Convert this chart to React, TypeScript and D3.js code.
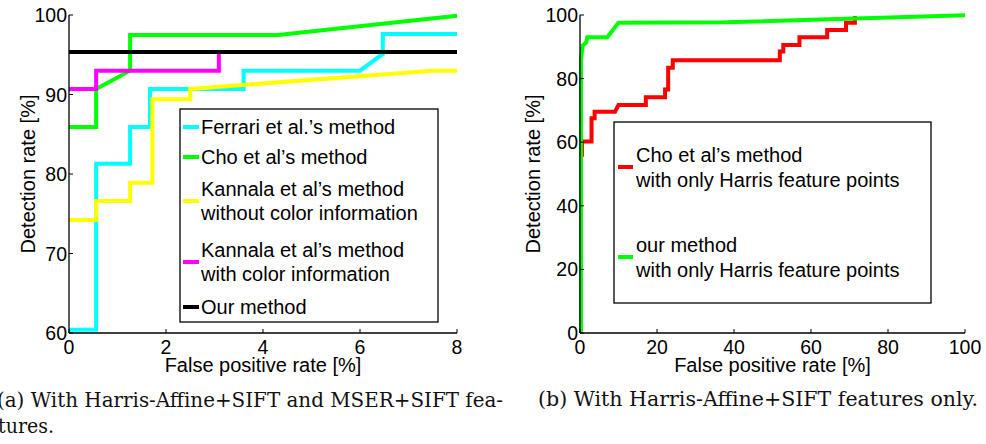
import React, { useEffect } from "react";
import * as d3 from "d3";

// ---------- DATA (left chart: false positive rate [%] vs detection rate [%]) ----------
const leftXTicks = [0, 2, 4, 6, 8];
const leftYTicks = [60, 70, 80, 90, 100];

const ferrariX = [0, 0.56, 0.56, 1.26, 1.26, 1.67, 1.67, 3.6, 3.6, 6.0, 6.47, 6.47, 8];
const ferrariY = [60.4, 60.4, 81.3, 81.3, 85.9, 85.9, 90.7, 90.7, 93.0, 93.0, 95.1, 97.6, 97.6];

const choX = [0, 0.56, 0.56, 1.26, 1.26, 4.31, 8];
const choY = [85.9, 85.9, 90.7, 93.0, 97.5, 97.5, 99.9];

const kannalaNoColX = [0, 0.56, 0.56, 1.26, 1.26, 1.72, 1.72, 2.5, 2.5, 7.5, 8];
const kannalaNoColY = [74.2, 74.2, 76.6, 76.6, 78.9, 78.9, 89.4, 89.4, 90.7, 93.0, 93.0];

const kannalaColX = [0, 0.56, 0.56, 3.09, 3.09, 8];
const kannalaColY = [90.7, 90.7, 93.0, 93.0, 95.35, 95.35];

const oursX = [0, 8];
const oursY = [95.35, 95.35];

const leftLabels = [
  ["Ferrari et al.\u2019s method"],
  ["Cho et al\u2019s method"],
  ["Kannala et al\u2019s method", "without color information"],
  ["Kannala et al\u2019s method", "with color information"],
  ["Our method"],
];
const leftColors = ["#00ffff", "#00ff00", "#ffff00", "#ff00ff", "#000000"];

// ---------- DATA (right chart) ----------
const rightXTicks = [0, 20, 40, 60, 80, 100];
const rightYTicks = [0, 20, 40, 60, 80, 100];

const choHarrisX = [0.5, 0.5, 3.0, 3.0, 3.8, 3.8, 9.1, 10.0, 17.1, 17.1, 22.1, 22.1, 22.9, 22.9, 24.1, 24.1,
  51.9, 51.9, 52.8, 52.8, 57.0, 57.0, 64.2, 64.2, 69.1, 69.1, 71.4, 71.4];
const choHarrisY = [55.4, 60.2, 60.2, 67.5, 67.5, 69.6, 69.6, 71.7, 71.7, 74.1, 74.1, 76.6, 76.6, 83.4, 83.4, 85.8,
  85.8, 88.5, 88.5, 90.6, 90.6, 93.0, 93.0, 95.3, 95.3, 97.6, 97.6, 99.7];

const oursHarrisX = [0.25, 0.25, 0.7, 1.6, 1.9, 7.1, 10.0, 38.0, 100];
const oursHarrisY = [0, 86.0, 90.4, 91.3, 93.0, 93.0, 97.6, 97.7, 99.9];

const rightLabels = [
  ["Cho et al\u2019s method", "with only Harris feature points"],
  ["our method", "with only Harris feature points"],
];
const rightColors = ["#ff0000", "#00ff00"];

const captionA1 = "(a) With Harris-Affine+SIFT and MSER+SIFT fea-";
const captionA2 = "tures.";
const captionB = "(b) With Harris-Affine+SIFT features only.";

// ---------- component ----------
const FONT = "'Liberation Sans', Arial, Helvetica, sans-serif";
const SERIF = "'DejaVu Serif', 'Liberation Serif', serif";

type Series = { xs: number[]; ys: number[]; color: string };

function zip(xs: number[], ys: number[]): [number, number][] {
  return xs.map((x, i) => [x, ys[i]]);
}

function Panel(props: {
  x: d3.ScaleLinear<number, number>;
  y: d3.ScaleLinear<number, number>;
  xTicks: number[];
  yTicks: number[];
  series: Series[];
  titleYX: number;
  legend: { box: [number, number, number, number]; sampleX: [number, number]; textX: number; entries: { color: string; lines: string[]; sampleY: number; lineYs: number[] }[] };
}) {
  const { x, y, xTicks, yTicks, series, legend } = props;
  const [x0, x1] = x.range();
  const [y0, y1] = y.range();
  const line = d3.line<[number, number]>().x((d) => x(d[0])).y((d) => y(d[1]));
  return (
    <g>
      {series.map((s, i) => (
        <path key={i} d={line(zip(s.xs, s.ys)) || ""} fill="none" stroke={s.color} strokeWidth={4} strokeLinejoin="miter" strokeLinecap="butt" />
      ))}
      {/* axes */}
      <line x1={x0} x2={x1} y1={y0} y2={y0} stroke="#000" strokeWidth={1.3} />
      <line x1={x0} x2={x0} y1={y0} y2={y1} stroke="#000" strokeWidth={1.3} />
      {xTicks.map((t) => (
        <g key={"x" + t}>
          <line x1={x(t)} x2={x(t)} y1={y0} y2={y0 - 4} stroke="#000" strokeWidth={1} />
          <text x={x(t)} y={354} textAnchor="middle" fontSize={19.5} fontFamily={FONT} fill="#000">{t}</text>
        </g>
      ))}
      {yTicks.map((t) => (
        <g key={"y" + t}>
          <line x1={x0} x2={x0 + 4} y1={y(t)} y2={y(t)} stroke="#000" strokeWidth={1} />
          <text x={x0 - 2} y={y(t)} dy="0.36em" textAnchor="end" fontSize={19.5} fontFamily={FONT} fill="#000">{t}</text>
        </g>
      ))}
      <text x={(x0 + x1) / 2} y={372} textAnchor="middle" fontSize={20} fontFamily={FONT} fill="#000">False positive rate [%]</text>
      <text transform={`translate(${props.titleYX},${(y0 + y1) / 2}) rotate(-90)`} textAnchor="middle" fontSize={20} fontFamily={FONT} fill="#000">Detection rate [%]</text>
      {/* legend */}
      <rect x={legend.box[0]} y={legend.box[1]} width={legend.box[2] - legend.box[0]} height={legend.box[3] - legend.box[1]} fill="#fff" stroke="#000" strokeWidth={1.3} />
      {legend.entries.map((e, i) => (
        <g key={i}>
          <line x1={legend.sampleX[0]} x2={legend.sampleX[1]} y1={e.sampleY} y2={e.sampleY} stroke={e.color} strokeWidth={4} />
          {e.lines.map((l, j) => (
            <text key={j} x={legend.textX} y={e.lineYs[j]} dy="0.36em" fontSize={20} fontFamily={FONT} fill="#000">{l}</text>
          ))}
        </g>
      ))}
    </g>
  );
}

export default function App() {
  useEffect(() => {
    document.body.style.margin = "0";
  }, []);

  const xL = d3.scaleLinear().domain([0, 8]).range([69, 457]);
  const yL = d3.scaleLinear().domain([60, 100]).range([333, 15]);
  const xR = d3.scaleLinear().domain([0, 100]).range([580, 965]);
  const yR = d3.scaleLinear().domain([0, 100]).range([333, 15]);

  const leftSeries: Series[] = [
    { xs: ferrariX, ys: ferrariY, color: leftColors[0] },
    { xs: choX, ys: choY, color: leftColors[1] },
    { xs: kannalaNoColX, ys: kannalaNoColY, color: leftColors[2] },
    { xs: kannalaColX, ys: kannalaColY, color: leftColors[3] },
    { xs: oursX, ys: oursY, color: leftColors[4] },
  ];
  const rightSeries: Series[] = [
    { xs: choHarrisX, ys: choHarrisY, color: rightColors[0] },
    { xs: oursHarrisX, ys: oursHarrisY, color: rightColors[1] },
  ];

  const leftSampleYs = [127, 157, 201, 262, 307];
  const leftLineYs = [[127], [157], [189, 213], [250, 274], [307]];
  const rightSampleYs = [167, 257];
  const rightLineYs = [[155, 180], [245, 270]];

  return (
    <svg width={986} height={444} style={{ position: "absolute", left: 0, top: 0, display: "block", background: "#fff" }}>
      <rect x={0} y={0} width={986} height={444} fill="#fff" />
      <Panel
        x={xL}
        y={yL}
        xTicks={leftXTicks}
        yTicks={leftYTicks}
        series={leftSeries}
        titleYX={35}
        legend={{
          box: [180, 109, 438, 322],
          sampleX: [183, 199],
          textX: 201,
          entries: leftLabels.map((lines, i) => ({ color: leftColors[i], lines, sampleY: leftSampleYs[i], lineYs: leftLineYs[i] })),
        }}
      />
      <Panel
        x={xR}
        y={yR}
        xTicks={rightXTicks}
        yTicks={rightYTicks}
        series={rightSeries}
        titleYX={540}
        legend={{
          box: [614, 122, 931, 303],
          sampleX: [618, 633],
          textX: 636,
          entries: rightLabels.map((lines, i) => ({ color: rightColors[i], lines, sampleY: rightSampleYs[i], lineYs: rightLineYs[i] })),
        }}
      />
      <text x={-3} y={407} fontSize={20} fontFamily={SERIF} fill="#111" textLength={506} lengthAdjust="spacingAndGlyphs">{captionA1}</text>
      <text x={-2} y={433} fontSize={20} fontFamily={SERIF} fill="#111" textLength={56} lengthAdjust="spacingAndGlyphs">{captionA2}</text>
      <text x={538} y={406} fontSize={20} fontFamily={SERIF} fill="#111" textLength={440} lengthAdjust="spacingAndGlyphs">{captionB}</text>
    </svg>
  );
}
